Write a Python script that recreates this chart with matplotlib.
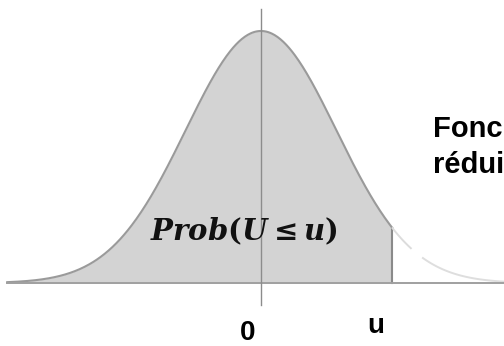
import numpy as np
import matplotlib
matplotlib.use('Agg')
import matplotlib.pyplot as plt

plt.rcParams['mathtext.fontset'] = 'custom'
plt.rcParams['mathtext.rm'] = 'DejaVu Serif:bold'
plt.rcParams['mathtext.it'] = 'DejaVu Serif:bold:italic'

# standard normal, shaded up to u
MU = 0.0
SIGMA = 1.0
U = 1.746
TAIL_GAP = (1.99, 2.15)

PROB_LABEL = r'$Prob(U \leq u)$'
TITLE_LINES = ['Fonc', 'rédui']
ZERO_LABEL = '0'
U_LABEL = 'u'

def pdf(x):
    return np.exp(-0.5 * ((x - MU) / SIGMA) ** 2) / (SIGMA * np.sqrt(2 * np.pi))

fig = plt.figure(figsize=(5.04, 3.46), dpi=100)
ax = fig.add_axes([0, 0, 1, 1])
ax.set_xlim(-3.466, 3.227)
ax.set_ylim(-0.0997, 0.448)
ax.axis('off')

x_left = np.linspace(-3.37, U, 400)
ax.fill_between(x_left, 0, pdf(x_left), color='#d3d3d3', lw=0)
ax.plot(x_left, pdf(x_left), color='#9a9a9a', lw=1.5)
ax.plot([U, U], [0, pdf(U)], color='#8a8a8a', lw=1.5)

# faint right tail, broken in two pieces
x_t1 = np.linspace(U, TAIL_GAP[0], 50)
x_t2 = np.linspace(TAIL_GAP[1], 3.3, 100)
ax.plot(x_t1, pdf(x_t1), color='#dcdcdc', lw=1.4)
ax.plot(x_t2, pdf(x_t2), color='#dedede', lw=1.4)

# axes lines
ax.plot([-3.37, 3.3], [0, 0], color='#a0a0a0', lw=1.4)
ax.plot([MU, MU], [-0.0348, 0.4338], color='#8c8c8c', lw=1.0)

ax.text(-0.232, 0.068, PROB_LABEL, fontsize=21, ha='center', va='baseline',
        color='#111111')
ax.text(2.286, 0.231, TITLE_LINES[0], fontsize=21, fontweight='bold',
        family='Liberation Sans', ha='left', va='baseline')
ax.text(2.286, 0.174, TITLE_LINES[1], fontsize=21, fontweight='bold',
        family='Liberation Sans', ha='left', va='baseline')
ax.text(-0.179, -0.090, ZERO_LABEL, fontsize=20, fontweight='bold',
        family='Liberation Sans', ha='center', va='baseline')
ax.text(1.52, -0.079, U_LABEL, fontsize=20, fontweight='bold',
        family='Liberation Sans', ha='center', va='baseline')

fig.savefig('out.png', dpi=100)
